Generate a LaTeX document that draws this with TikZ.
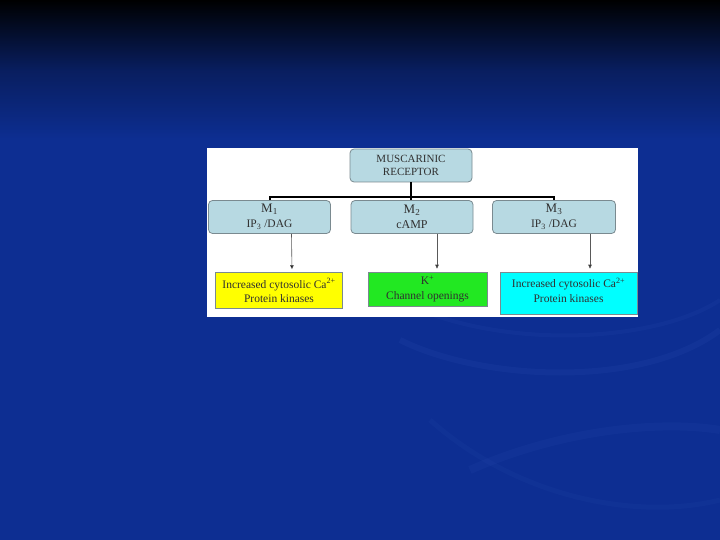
\documentclass[tikz,border=0pt]{standalone}
\usepackage{fontspec}
\setmainfont{Liberation Serif}
\usetikzlibrary{arrows.meta}
\definecolor{boxblue}{HTML}{B7D9E2}
\definecolor{boxedge}{HTML}{7A8A90}
\definecolor{txt}{HTML}{303030}
\definecolor{navy}{HTML}{0D2E92}
\definecolor{swirl}{HTML}{2A4FB0}
\definecolor{yel}{HTML}{FFFF00}
\definecolor{grn}{HTML}{22E822}
\definecolor{cyn}{HTML}{00FFFF}
\tikzset{
  recbox/.style={draw=boxedge, fill=boxblue, rounded corners=4pt, line width=0.8pt, text=txt, align=center, inner sep=0pt},
  effbox/.style={draw=boxedge, line width=0.6pt, text=txt, align=center, inner sep=0pt, font=\fontsize{11.5}{14.5}\selectfont},
  tree/.style={line width=2pt, black},
  arr/.style={draw=gray!70!black, line width=0.6pt, shorten >=3pt, -{Triangle[length=4pt,width=3.5pt,fill=black]}}
}
\begin{document}
\begin{tikzpicture}[x=1pt,y=-1pt]
\useasboundingbox (0,0) rectangle (720,540);
% background
\shade[top color=black, bottom color=navy, middle color=navy!65!black] (0,0) rectangle (720,140);
\fill[navy] (0,140) rectangle (720,540);
\draw[swirl, line width=6pt, opacity=0.18] (400,340) .. controls (480,380) and (640,390) .. (720,330);
\draw[swirl, line width=4pt, opacity=0.15] (420,310) .. controls (520,350) and (660,340) .. (720,300);
\draw[swirl, line width=8pt, opacity=0.15] (470,470) .. controls (560,430) and (660,420) .. (720,430);
\draw[swirl, line width=5pt, opacity=0.12] (430,420) .. controls (520,500) and (640,520) .. (720,500);
% white panel
\fill[white] (207,148) rectangle (638,317);
% nodes
\node[recbox, minimum width=122pt, minimum height=33pt, font=\fontsize{11}{13.5}\selectfont] (top) at (411,165.5)
  {MUSCARINIC\\RECEPTOR};
\node[recbox, minimum width=122pt, minimum height=33pt] (m1) at (269.5,217)
  {\fontsize{13}{17}\selectfont M\textsubscript{1}\\[3pt] \fontsize{11.5}{17}\selectfont IP\textsubscript{3} /DAG};
\node[recbox, minimum width=122pt, minimum height=33pt] (m2) at (412,217)
  {\fontsize{13}{17}\selectfont M\textsubscript{2}\\[3pt] \fontsize{12}{17}\selectfont cAMP};
\node[recbox, minimum width=123pt, minimum height=33pt] (m3) at (554,217)
  {\fontsize{13}{17}\selectfont M\textsubscript{3}\\[3pt] \fontsize{11.5}{17}\selectfont IP\textsubscript{3} /DAG};
\node[effbox, fill=yel, minimum width=127pt, minimum height=36pt] (e1) at (279,290.5)
  {Increased cytosolic Ca\textsuperscript{2+}\\Protein kinases};
\node[effbox, fill=grn, minimum width=119pt, minimum height=34pt] (e2) at (427.5,289)
  {K\textsuperscript{+}\\Channel openings};
\node[effbox, fill=cyn, minimum width=137pt, minimum height=42pt] (e3) at (568.5,293) {};
\node[effbox, draw=none] (e3t) at ([yshift=3]e3.center)
  {Increased cytosolic Ca\textsuperscript{2+}\\Protein kinases};
% tree
\coordinate (hj) at (411,197);
\draw[tree] (top.south) -- (hj);
\draw[tree] (m1.north) |- (hj) -| (m3.north);
\draw[tree] (hj) -- (m2.north -| hj);
% arrows
\draw[arr] ([xshift=22]m1.south) -- ([xshift=13]e1.north);
\draw[arr] ([xshift=25]m2.south) -- ([xshift=9.5]e2.north);
\draw[arr] ([xshift=36]m3.south) -- ([xshift=21.5]e3.north);
\end{tikzpicture}
\end{document}
